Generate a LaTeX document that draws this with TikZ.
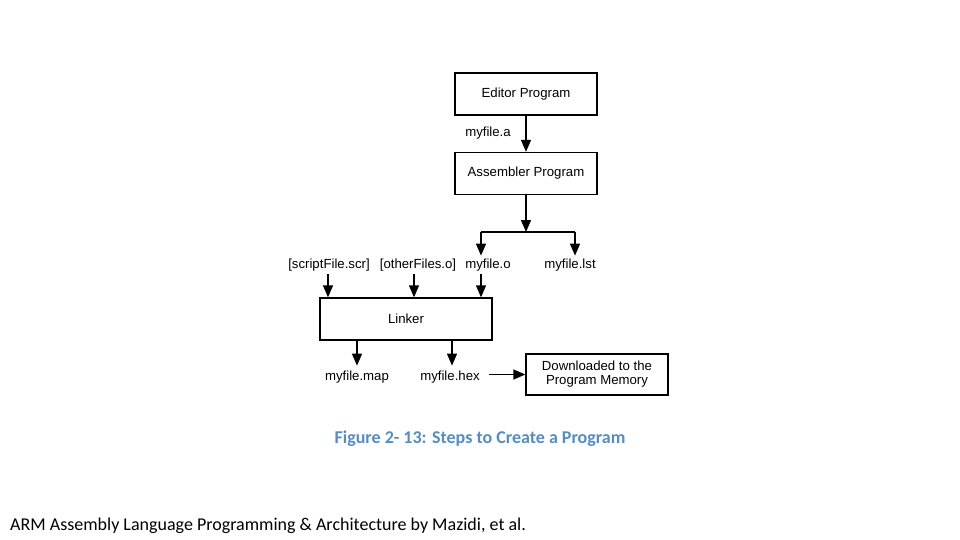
\documentclass[tikz,border=0pt]{standalone}
\usepackage{fontspec}
\setmainfont{Liberation Sans}
\newfontfamily\slidefont{Carlito}
\usetikzlibrary{arrows.meta, positioning, calc}
\definecolor{capblue}{RGB}{84,141,196}

\begin{document}
\begin{tikzpicture}[x=1pt,y=-1pt,
  stepbox/.style={draw,line width=1.3pt,minimum width=142pt,minimum height=42pt,font=\fontsize{13.2}{15}\selectfont,align=center},
  fname/.style={font=\fontsize{13.2}{15}\selectfont,inner sep=3pt},
  arr/.style={-{Triangle[length=12pt,width=10pt]},line width=1.3pt}]
  \useasboundingbox (0,0) rectangle (960,540);
  \node [stepbox] (editor) at (526,94) {Editor Program};
  \node [stepbox] (asm) at (526,173.5) {Assembler Program};
  \node [stepbox,minimum width=172pt] (linker) at (406,319) {Linker};
  \node [stepbox,minimum height=41pt] (load) at (597,374.5) {Downloaded to the\\[-1pt]Program Memory};
  \node [fname] (mya) at (488,133) {myfile.a};
  \node [fname] (script) at (329,265) {[scriptFile.scr]};
  \node [fname] (other) at (418,265) {[otherFiles.o]};
  \node [fname] (myo) at (488,265) {myfile.o};
  \node [fname] (mylst) at (570,265) {myfile.lst};
  \node [fname] (mymap) at (357,377) {myfile.map};
  \node [fname] (myhex) at (450,377) {myfile.hex};
  \coordinate (split) at (526,232);
  \coordinate (brL) at (481,232);
  \coordinate (brR) at (575,232);
  % assembler outputs
  \draw [arr] (editor) -- (asm);
  \draw [arr] (asm) -- (split);
  \draw [line width=1.3pt] (brL) -- (brR);
  \draw [arr] (brL) -- (brL |- myo.north);
  \draw [arr] (brR) -- (brR |- mylst.north);
  % linker inputs and outputs
  \draw [arr] (script.south -| 328,0) -- (linker.north -| 328,0);
  \draw [arr] (other.south -| 414,0) -- (linker.north -| 414,0);
  \draw [arr] (myo.south -| brL) -- (linker.north -| brL);
  \draw [arr] (linker.south -| mymap) -- ($(mymap.north)+(0,-2)$);
  \draw [arr] (linker.south -| 452,0) -- ($(mymap.north -| 452,0)+(0,-2)$);
  \draw [arr,shorten <=6pt] (myhex.east |- load.west) -- (load.west);
  \node [text=capblue,font=\slidefont\bfseries\fontsize{18}{21}\selectfont] (caption) at (480,439) {Figure 2- 13: Steps to Create a Program};
  \node [anchor=west,inner sep=0pt,font=\slidefont\fontsize{18}{21}\selectfont] (credit) at (10,526) {ARM Assembly Language Programming \& Architecture by Mazidi, et al.};
\end{tikzpicture}
\end{document}
